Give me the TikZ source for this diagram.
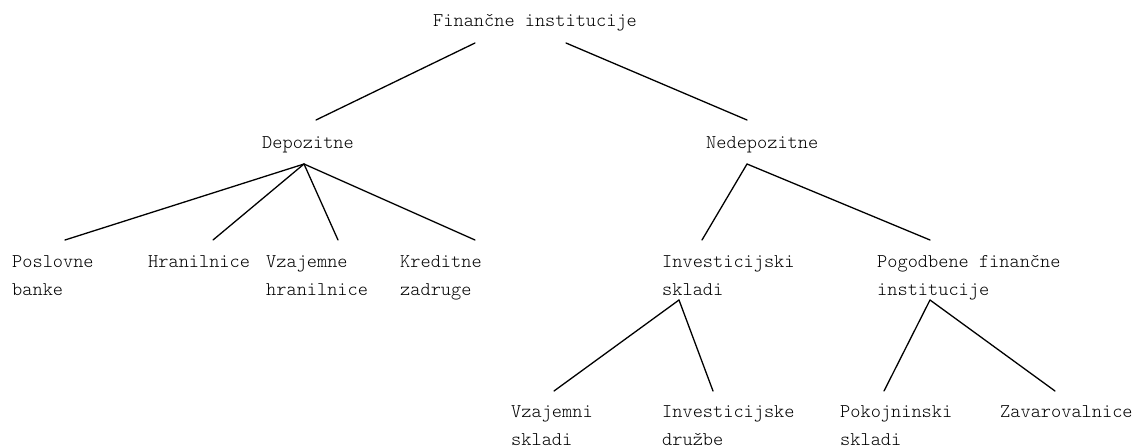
\documentclass[tikz,border=0pt]{standalone}
\usepackage{fontspec}
\begin{document}
\begin{tikzpicture}[x=1pt,y=-1pt,
  lbl/.style={anchor=base west, inner sep=0pt, align=left,
    font=\fontsize{19.4}{28}\ttfamily\fontseries{l}\selectfont},
  edge/.style={line width=1.3pt, line cap=round}]
\useasboundingbox (0,0) rectangle (1142,447);
% labels (multi-line nodes are anchored at the baseline of their last line)
\node[lbl] (root) at (433,27) {Finančne institucije};
\node[lbl] (dep) at (262,148) {Depozitne};
\node[lbl] (ned) at (706,148) {Nedepozitne};
\node[lbl] (pos) at (12,295.5) {Poslovne\\banke};
\node[lbl] (hra) at (148,267.5) {Hranilnice};
\node[lbl] (vzh) at (266,295.5) {Vzajemne\\hranilnice};
\node[lbl] (kre) at (400,295.5) {Kreditne\\zadruge};
\node[lbl] (inv) at (662,295.5) {Investicijski\\skladi};
\node[lbl] (pog) at (877,295.5) {Pogodbene finančne\\institucije};
\node[lbl] (vzs) at (511,445.5) {Vzajemni\\skladi};
\node[lbl] (ind) at (662,445.5) {Investicijske\\družbe};
\node[lbl] (pok) at (840,445.5) {Pokojninski\\skladi};
\node[lbl] (zav) at (1000,417.5) {Zavarovalnice};
% edge anchor points
\coordinate (rootL) at (475,43);
\coordinate (rootR) at (566,43);
\coordinate (depT) at (316,120);
\coordinate (nedT) at (747,120);
\coordinate (depB) at (304,164);
\coordinate (nedB) at (747,164);
\coordinate (posT) at (65,240);
\coordinate (hraT) at (213,240);
\coordinate (vzhT) at (338,240);
\coordinate (kreT) at (475,240);
\coordinate (invT) at (702,240);
\coordinate (pogT) at (930,240);
\coordinate (invB) at (679,300);
\coordinate (pogB) at (930,300);
\coordinate (vzsT) at (554,391);
\coordinate (indT) at (713,391);
\coordinate (pokT) at (884,391);
\coordinate (zavT) at (1055,391);
% connectors
\draw[edge] (rootL) -- (depT);
\draw[edge] (rootR) -- (nedT);
\draw[edge] (depB) -- (posT);
\draw[edge] (depB) -- (hraT);
\draw[edge] (depB) -- (vzhT);
\draw[edge] (depB) -- (kreT);
\draw[edge] (nedB) -- (invT);
\draw[edge] (nedB) -- (pogT);
\draw[edge] (invB) -- (vzsT);
\draw[edge] (invB) -- (indT);
\draw[edge] (pogB) -- (pokT);
\draw[edge] (pogB) -- (zavT);
\end{tikzpicture}
\end{document}
